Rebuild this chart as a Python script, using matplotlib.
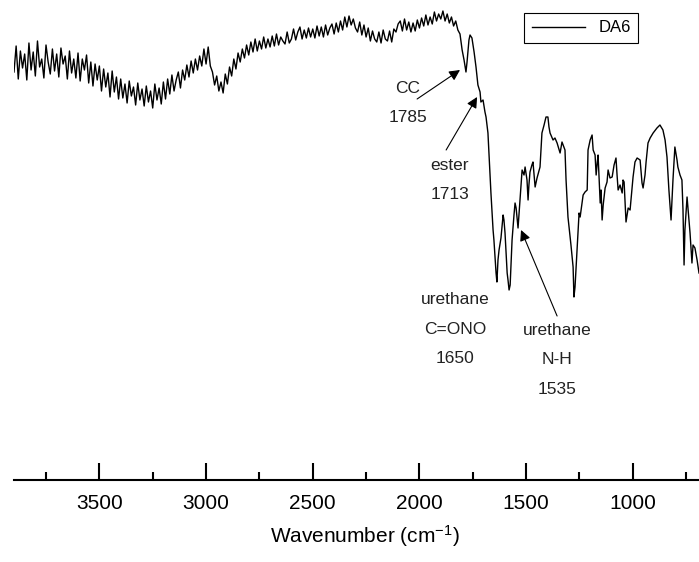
import numpy as np
import matplotlib.pyplot as plt

plt.rcParams['font.family'] = ['Liberation Sans', 'DejaVu Sans']
plt.rcParams['mathtext.fontset'] = 'custom'
plt.rcParams['mathtext.rm'] = 'Liberation Sans'
plt.rcParams['mathtext.it'] = 'Liberation Sans:italic'

# noisy high-wavenumber part, sampled every 10 cm-1 from 3900 down to 1810
wn_high = np.arange(3900, 1800, -10)
t_high = [
    228, 254, 221, 249, 232, 246, 220, 257, 230, 248,
    224, 259, 233, 241, 222, 255, 238, 226, 251, 229,
    246, 223, 252, 236, 244, 221, 249, 227, 241, 222,
    247, 219, 241, 230, 245, 217, 238, 214, 236, 220,
    234, 209, 231, 213, 227, 203, 229, 208, 223, 201,
    221, 202, 216, 197, 219, 204, 213, 195, 217, 200,
    211, 194, 214, 198, 209, 192, 216, 200, 212, 196,
    218, 201, 221, 206, 225, 209, 220, 228, 212, 230,
    220, 235, 223, 239, 227, 241, 230, 244, 234, 251,
    236, 253, 234, 228, 215, 224, 209, 218, 207, 226,
    216, 233, 224, 241, 231, 247, 238, 251, 242, 255,
    245, 258, 248, 261, 249, 259, 251, 263, 252, 261,
    253, 264, 254, 266, 255, 263, 259, 256, 268, 257,
    261, 271, 260, 268, 273, 261, 270, 262, 272, 263,
    271, 262, 274, 264, 273, 263, 275, 265, 272, 276,
    266, 277, 268, 279, 270, 283, 273, 284, 275, 281,
    272, 268, 278, 265, 275, 263, 272, 259, 269, 261,
    258, 268, 257, 270, 261, 259, 269, 258, 271, 268,
    276, 279, 269, 281, 270, 278, 268, 277, 269, 280,
    272, 282, 274, 285, 275, 283, 276, 288, 279, 286,
    281, 289, 279, 286, 277, 283, 274, 279, 270, 266,
]

# fingerprint part
wn_low = [1800, 1791, 1782, 1777, 1768, 1763, 1754, 1744, 1735, 1726, 1716, 1712,
          1702, 1693, 1688, 1679, 1669, 1665, 1655, 1651, 1641, 1637, 1632, 1627,
          1618, 1613, 1608, 1604, 1599, 1589, 1585, 1580, 1575, 1566, 1557, 1552,
          1547, 1538, 1529, 1519, 1510, 1505, 1496, 1491, 1487, 1482, 1473, 1468,
          1463, 1458, 1449, 1435, 1426, 1416, 1407, 1398, 1393, 1388, 1374, 1365,
          1355, 1341, 1332, 1318, 1313, 1304, 1290, 1280, 1276, 1271, 1261, 1252,
          1247, 1233, 1224, 1214, 1210, 1200, 1191, 1186, 1177, 1172, 1167, 1163,
          1158, 1153, 1149, 1144, 1139, 1130, 1121, 1116, 1107, 1097, 1088, 1079,
          1074, 1069, 1060, 1050, 1046, 1041, 1036, 1032, 1022, 1013, 999, 990,
          980, 966, 957, 952, 943, 938, 929, 919, 905, 887, 873, 859,
          849, 840, 831, 821, 812, 803, 793, 789, 779, 770, 765, 760,
          756, 746, 737, 732, 723, 718, 709, 699, 690]
t_low = [250, 240, 228, 238, 260, 265, 262, 248, 233, 215, 208, 198,
         200, 188, 183, 167, 125, 107, 70, 60, 27, 18, 40, 50,
         62, 73, 85, 80, 67, 27, 20, 10, 15, 60, 85, 97,
         92, 72, 100, 130, 125, 133, 120, 100, 115, 128, 135, 138,
         125, 113, 122, 133, 167, 175, 183, 183, 173, 167, 160, 162,
         157, 147, 158, 150, 120, 83, 55, 33, 3, 13, 53, 87,
         83, 105, 108, 110, 150, 160, 165, 150, 145, 125, 137, 145,
         120, 97, 110, 80, 95, 112, 118, 130, 122, 123, 135, 142,
         125, 110, 115, 107, 120, 118, 95, 78, 92, 90, 123, 138,
         142, 140, 117, 112, 125, 138, 157, 162, 167, 172, 175, 170,
         160, 143, 110, 80, 120, 153, 140, 133, 125, 120, 90, 35,
         70, 103, 80, 67, 37, 55, 52, 40, 27]

wavenumber = np.concatenate([wn_high, wn_low])
transmittance = np.concatenate([t_high, t_low])

# peak labels
labels = ["CC\n1785", "ester\n1713", "urethane\nC=ONO\n1650", "urethane\nN-H\n1535"]
label_pos = [(2056, 197), (1857, 120), (1832, -29), (1354, -60)]
arrow_from = [(2011, 201), (1875, 150), None, (1355, -16)]
arrow_to = [(1810, 230), (1730, 203), None, (1524, 70)]

fig = plt.figure(figsize=(6.99, 5.62), dpi=100)
ax = fig.add_axes([14 / 699, 82 / 562, 685 / 699, 480 / 562])

ax.plot(wavenumber, transmittance, color='black', linewidth=1.0, label='DA6')

for txt, pos in zip(labels, label_pos):
    ax.text(pos[0], pos[1], txt, ha='center', va='center', fontsize=12.5,
            color='#222222', linespacing=2.2)
for a, b in zip(arrow_from, arrow_to):
    if a is None:
        continue
    ax.annotate('', xy=b, xytext=a,
                arrowprops=dict(arrowstyle='-|>', color='black', lw=0.8,
                                mutation_scale=16, shrinkA=0, shrinkB=0))

ax.set_xlim(3900, 690)
ax.set_ylim(-180, 300)
ax.set_xticks([3500, 3000, 2500, 2000, 1500, 1000])
ax.set_xticks([3750, 3250, 2750, 2250, 1750, 1250, 750], minor=True)
ax.tick_params(axis='x', which='major', direction='in', length=12, width=1.5,
               labelsize=15, pad=10)
ax.tick_params(axis='x', which='minor', direction='in', length=6, width=1.5)
ax.set_yticks([])
for s in ['top', 'left', 'right']:
    ax.spines[s].set_visible(False)
ax.spines['bottom'].set_linewidth(1.5)

ax.set_xlabel("Wavenumber (cm$^{-1}$)", fontsize=15)
ax.xaxis.set_label_coords(0.512, -0.117)
ax.xaxis.label.set_verticalalignment('center')

leg = ax.legend(loc='upper left', bbox_to_anchor=(0.745, 0.973), borderaxespad=0,
                fontsize=12, frameon=True, fancybox=False, edgecolor='black',
                framealpha=1, handlelength=3.2, handletextpad=0.8, borderpad=0.45)
leg.get_frame().set_linewidth(0.8)

fig.savefig('out.png', dpi=100)
